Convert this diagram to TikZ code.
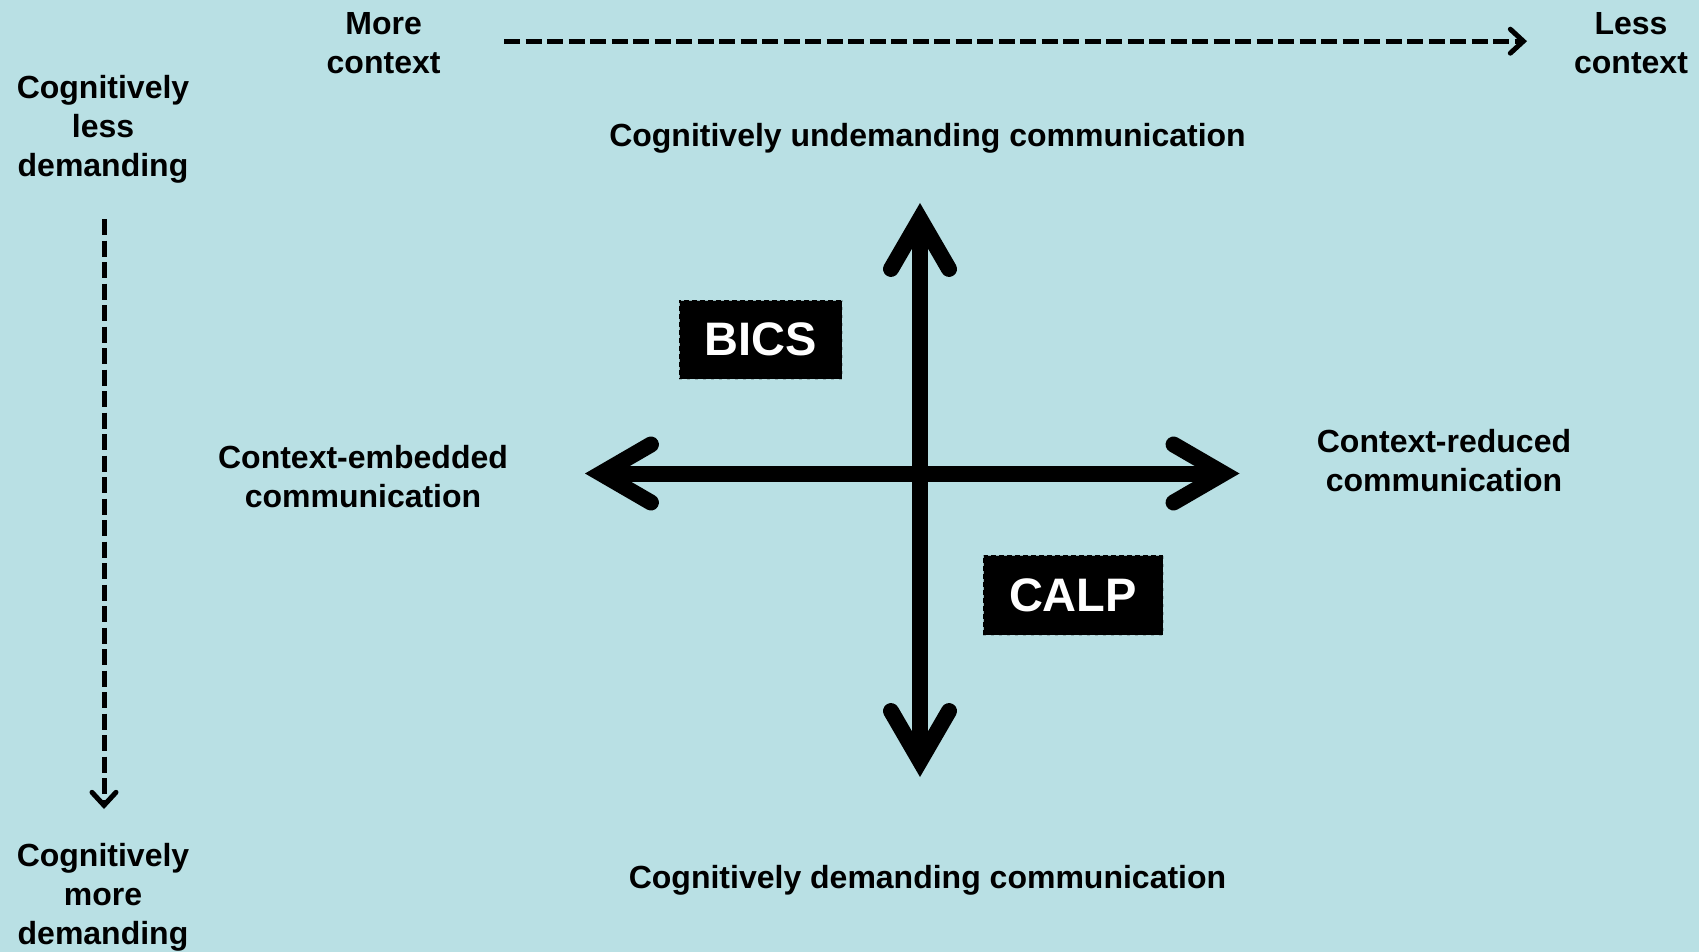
\documentclass[tikz,border=0pt]{standalone}
\usepackage{fontspec}
\setmainfont{Liberation Sans}
\usetikzlibrary{arrows.meta}
\definecolor{bg}{RGB}{185,224,228}
\tikzset{
  lbl/.style={font=\fontsize{32}{39}\selectfont\bfseries, align=center, inner sep=0pt},
  tag/.style={fill=black, draw=bg!80!black, line width=1pt, dash pattern=on 3pt off 5pt,
    text=white, font=\fontsize{47}{50}\selectfont\bfseries, inner sep=0pt},
  dasharrow/.style={line width=5pt, dash pattern=on 16pt off 5.5pt,
    -{Straight Barb[length=13pt, width=24pt, line cap=round, line join=miter]}},
  bigarrow/.style={line width=16pt,
    {Straight Barb[length=50pt, width=58pt, line cap=round, line join=miter]}-{Straight Barb[length=50pt, width=58pt, line cap=round, line join=miter]}},
}
\begin{document}
\begin{tikzpicture}[x=1pt,y=-1pt]
\fill[bg] (0,0) rectangle (1699,952);
\useasboundingbox (0,0) rectangle (1699,952);

\node[lbl] (more) at (383.6,43) {More\\context};
\node[lbl] (less) at (1631,43) {Less\\context};
\coordinate (hs) at (504,41.2);
\coordinate (he) at (1527,41.2);
\draw[dasharrow] (hs) -- (he);

\node[lbl] (cless) at (103,129) {Cognitively\\less\\demanding};
\node[lbl] (cmore) at (103,897) {Cognitively\\more\\demanding};
\coordinate (vs) at (104,219);
\coordinate (ve) at (104,809);
\draw[dasharrow] (vs) -- (ve);

\node[lbl] (undem) at (927.5,138.5) {Cognitively undemanding communication};
\node[lbl] (dem) at (927.5,880.5) {Cognitively demanding communication};
\node[lbl] (emb) at (363,477) {Context-embedded\\communication};
\node[lbl] (red) at (1444,461) {Context-reduced\\communication};

\coordinate (T) at (920,203);
\coordinate (B) at (920,777);
\coordinate (L) at (585,473.5);
\coordinate (R) at (1239.5,473.5);
\draw[bigarrow] (L) -- (R);
\draw[bigarrow] (T) -- (B);

\node[tag, minimum width=163pt, minimum height=79pt] (bics) at (760.5,339.7) {BICS};
\node[tag, minimum width=180pt, minimum height=80pt] (calp) at (1073,595) {CALP};
\end{tikzpicture}
\end{document}
